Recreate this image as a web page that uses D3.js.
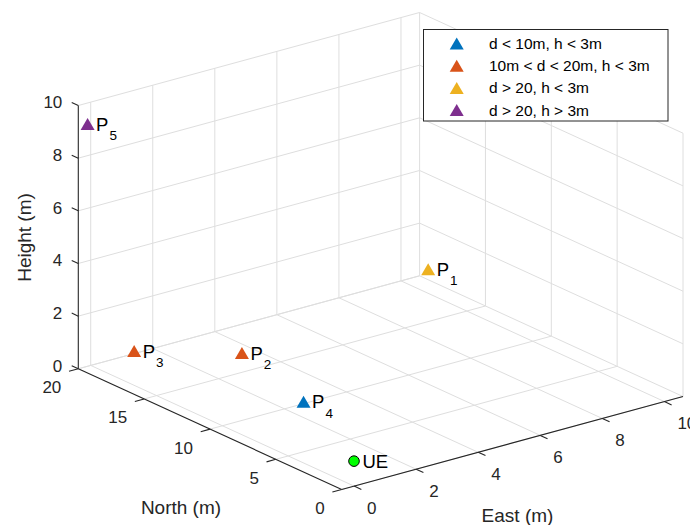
<!DOCTYPE html>
<html>
<head>
<meta charset="utf-8">
<script src="https://cdn.jsdelivr.net/npm/d3@7"></script>
<style>
  html, body { margin: 0; padding: 0; background: #fff; }
  svg { display: block; font-family: "Liberation Sans", Arial, Helvetica, sans-serif; }
  .grid line { stroke: #dedede; stroke-width: 1; }
  .axis line { stroke: #262626; stroke-width: 1.1; }
  .tick text { fill: #262626; font-size: 17px; }
  .lbl { fill: #262626; font-size: 19px; }
</style>
</head>
<body>
<svg width="690" height="525"></svg>
<script>
// ticks
var eastTicks = [0, 2, 4, 6, 8, 10];
var northTicks = [0, 5, 10, 15, 20];
var heightTicks = [0, 2, 4, 6, 8, 10];

// access points (east, north, height in m) and their class
var pointNames = ["1", "2", "3", "4", "5"];
var pointEast = [9.9, 3.6, 1.4, 2.7, -0.1];
var pointNorth = [17.7, 17.0, 20.0, 10.2, 20.0];
var pointHeight = [1.0, 0.0, 0.1, 0.0, 9.2];
var pointClass = [2, 1, 1, 0, 3];

// user equipment
var ueEast = 1.1, ueNorth = 2.6, ueHeight = 0;

var classLabels = ["d < 10m, h < 3m", "10m < d < 20m, h < 3m", "d > 20, h < 3m", "d > 20, h > 3m"];
var classColors = ["#0072BD", "#D95319", "#EDB120", "#7E2F8E"];

var svg = d3.select("svg");

// axis limits -> 0..1 along each box edge
var xE = d3.scaleLinear().domain([-0.4, 10.6]).range([0, 1]);
var yN = d3.scaleLinear().domain([0, 20]).range([0, 1]);
var zH = d3.scaleLinear().domain([0, 10]).range([0, 1]);

// screen vectors of the box edges (orthographic view)
var O = [341.7, 489.5];
var EX = [341.3, -93];
var NX = [-263.4, -120.7];
var ZX = [0, -263.3];

function proj(e, n, h) {
  var a = xE(e), b = yN(n), c = zH(h);
  return [O[0] + a * EX[0] + b * NX[0] + c * ZX[0],
          O[1] + a * EX[1] + b * NX[1] + c * ZX[1]];
}

var eMin = xE.domain()[0], eMax = xE.domain()[1];
var nMin = yN.domain()[0], nMax = yN.domain()[1];
var hMin = zH.domain()[0], hMax = zH.domain()[1];

// grid segments in data space
var gridSegs = [];
eastTicks.forEach(function(e) {
  gridSegs.push([[e, nMin, hMin], [e, nMax, hMin]]);   // floor
  gridSegs.push([[e, nMax, hMin], [e, nMax, hMax]]);   // back wall
});
northTicks.forEach(function(n) {
  gridSegs.push([[eMin, n, hMin], [eMax, n, hMin]]);   // floor
  gridSegs.push([[eMax, n, hMin], [eMax, n, hMax]]);   // right wall
});
heightTicks.forEach(function(h) {
  gridSegs.push([[eMin, nMax, h], [eMax, nMax, h]]);   // back wall
  gridSegs.push([[eMax, nMin, h], [eMax, nMax, h]]);   // right wall
});

svg.append("g").attr("class", "grid")
  .selectAll("line")
  .data(gridSegs)
  .enter().append("line")
  .attr("x1", function(d) { return proj.apply(null, d[0])[0]; })
  .attr("y1", function(d) { return proj.apply(null, d[0])[1]; })
  .attr("x2", function(d) { return proj.apply(null, d[1])[0]; })
  .attr("y2", function(d) { return proj.apply(null, d[1])[1]; });

// axis lines
var axisSegs = [
  [[eMin, nMin, hMin], [eMax, nMin, hMin]],
  [[eMin, nMin, hMin], [eMin, nMax, hMin]],
  [[eMin, nMax, hMin], [eMin, nMax, hMax]]
];
var axes = svg.append("g").attr("class", "axis");
axes.selectAll("line.ax")
  .data(axisSegs)
  .enter().append("line")
  .attr("class", "ax")
  .attr("x1", function(d) { return proj.apply(null, d[0])[0]; })
  .attr("y1", function(d) { return proj.apply(null, d[0])[1]; })
  .attr("x2", function(d) { return proj.apply(null, d[1])[0]; })
  .attr("y2", function(d) { return proj.apply(null, d[1])[1]; });

// east ticks
var eastG = axes.append("g").selectAll("g")
  .data(eastTicks).enter().append("g").attr("class", "tick");
eastG.append("line")
  .attr("x1", function(d) { return proj(d, nMin, hMin)[0]; })
  .attr("y1", function(d) { return proj(d, nMin, hMin)[1]; })
  .attr("x2", function(d) { return proj(d, nMin - 0.55, hMin)[0]; })
  .attr("y2", function(d) { return proj(d, nMin - 0.55, hMin)[1]; });
eastG.append("text")
  .attr("x", function(d) { return proj(d, nMin, hMin)[0] + 13; })
  .attr("y", function(d) { return proj(d, nMin, hMin)[1] + 21.5; })
  .attr("dy", "0.35em")
  .text(function(d) { return d; });

// north ticks
var northG = axes.append("g").selectAll("g")
  .data(northTicks).enter().append("g").attr("class", "tick");
northG.append("line")
  .attr("x1", function(d) { return proj(eMin, d, hMin)[0]; })
  .attr("y1", function(d) { return proj(eMin, d, hMin)[1]; })
  .attr("x2", function(d) { return proj(eMin - 0.3, d, hMin)[0]; })
  .attr("y2", function(d) { return proj(eMin - 0.3, d, hMin)[1]; });
northG.append("text")
  .attr("text-anchor", "end")
  .attr("x", function(d) { return proj(eMin, d, hMin)[0] - 17; })
  .attr("y", function(d) { return proj(eMin, d, hMin)[1] + 18.5; })
  .attr("dy", "0.35em")
  .text(function(d) { return d; });

// height ticks
var heightG = axes.append("g").selectAll("g")
  .data(heightTicks).enter().append("g").attr("class", "tick");
heightG.append("line")
  .attr("x1", function(d) { return proj(eMin, nMax, d)[0]; })
  .attr("y1", function(d) { return proj(eMin, nMax, d)[1]; })
  .attr("x2", function(d) { return proj(eMin, nMax + 0.5, d)[0]; })
  .attr("y2", function(d) { return proj(eMin, nMax + 0.5, d)[1]; });
heightG.append("text")
  .attr("text-anchor", "end")
  .attr("x", function(d) { return proj(eMin, nMax, d)[0] - 16; })
  .attr("y", function(d) { return proj(eMin, nMax, d)[1] - 3; })
  .attr("dy", "0.35em")
  .text(function(d) { return d; });

// axis titles
svg.append("text").attr("class", "lbl")
  .attr("x", 517.5).attr("y", 515).attr("dy", "0.35em")
  .attr("text-anchor", "middle").text("East (m)");
svg.append("text").attr("class", "lbl")
  .attr("x", 181).attr("y", 507).attr("dy", "0.35em")
  .attr("text-anchor", "middle").text("North (m)");
svg.append("text").attr("class", "lbl")
  .attr("transform", "translate(24,237.5) rotate(-90)")
  .attr("dy", "0.35em")
  .attr("text-anchor", "middle").text("Height (m)");

// markers
var tri = "M0,-6L7,6L-7,6Z";
var pts = pointNames.map(function(name, i) {
  var p = proj(pointEast[i], pointNorth[i], pointHeight[i]);
  return { name: name, x: p[0], y: p[1], cls: pointClass[i] };
});

var ptG = svg.append("g").selectAll("g")
  .data(pts).enter().append("g")
  .attr("transform", function(d) { return "translate(" + d.x + "," + d.y + ")"; });
ptG.append("path")
  .attr("d", tri)
  .attr("fill", function(d) { return classColors[d.cls]; });
var lab = ptG.append("text")
  .attr("x", 8.5).attr("y", 6.7)
  .attr("font-size", 18.5)
  .attr("fill", "#000");
lab.append("tspan").text("P");
lab.append("tspan")
  .attr("font-size", 13.5)
  .attr("dx", 1).attr("dy", 9.5)
  .text(function(d) { return d.name; });

var ueP = proj(ueEast, ueNorth, ueHeight);
svg.append("circle")
  .attr("cx", ueP[0]).attr("cy", ueP[1]).attr("r", 5.3)
  .attr("fill", "#00FF00").attr("stroke", "#000").attr("stroke-width", 1);
svg.append("text")
  .attr("x", ueP[0] + 8.5).attr("y", ueP[1] + 6.7)
  .attr("font-size", 18.5).attr("fill", "#000")
  .text("UE");

// legend
var leg = svg.append("g");
leg.append("rect")
  .attr("x", 423.5).attr("y", 29.5)
  .attr("width", 244.5).attr("height", 91.5)
  .attr("fill", "#fff").attr("stroke", "#262626").attr("stroke-width", 1);
var row = leg.selectAll("g.row")
  .data(classLabels).enter().append("g")
  .attr("class", "row")
  .attr("transform", function(d, i) { return "translate(0," + (43.5 + i * 22.2) + ")"; });
row.append("path")
  .attr("transform", "translate(456.7,0)")
  .attr("d", tri)
  .attr("fill", function(d, i) { return classColors[i]; });
row.append("text")
  .attr("x", 489).attr("dy", "0.35em")
  .attr("font-size", 15.5).attr("fill", "#000")
  .text(function(d) { return d; });
</script>
</body>
</html>
